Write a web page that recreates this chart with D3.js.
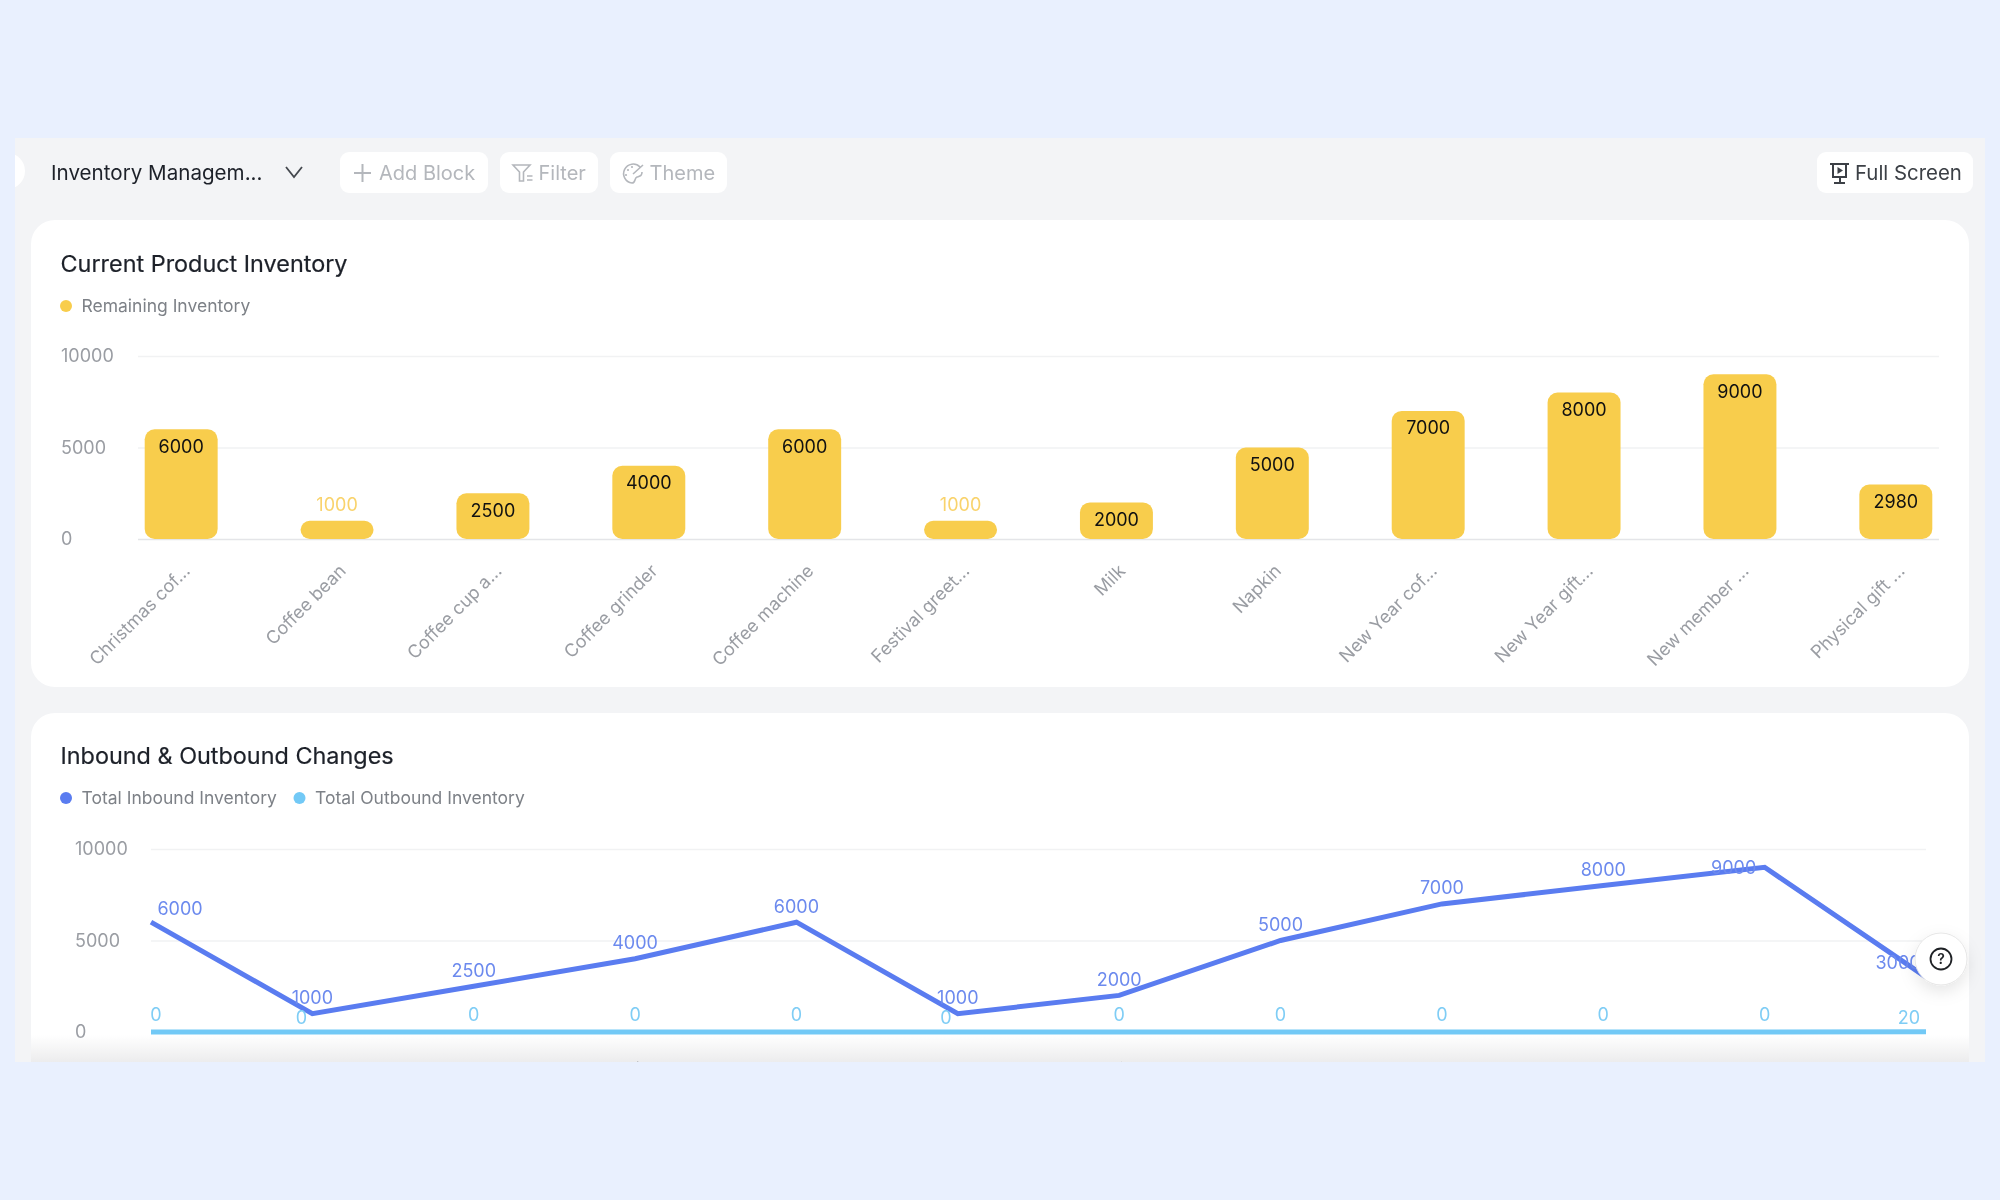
<!DOCTYPE html>
<html>
<head>
<meta charset="utf-8">
<script src="https://cdn.jsdelivr.net/npm/d3@7"></script>
<style>
  body { margin: 0; background: #e9f0fe; }
  svg { display: block; filter: blur(0.35px); }
  text { font-family: Inter, "Noto Sans", sans-serif; }
</style>
</head>
<body>
<div id="chart"></div>
<script>
// data
const categories = ["Christmas cof...", "Coffee bean", "Coffee cup a...", "Coffee grinder", "Coffee machine", "Festival greet...", "Milk", "Napkin", "New Year cof...", "New Year gift...", "New member ...", "Physical gift ..."];
const remaining = [6000, 1000, 2500, 4000, 6000, 1000, 2000, 5000, 7000, 8000, 9000, 2980];
const inbound = [6000, 1000, 2500, 4000, 6000, 1000, 2000, 5000, 7000, 8000, 9000, 3000];
const outbound = [0, 0, 0, 0, 0, 0, 0, 0, 0, 0, 0, 20];
const yTicks = [0, 5000, 10000];

const YELLOW = "#f8cd4c", BLUE = "#5a7cf0", SKY = "#72c9f6";
const TICK = "#9a9da3", LEGEND = "#7d8187", INK = "#1d2129", MUTED = "#b4b7bc";

const svg = d3.select("#chart").append("svg").attr("width", 2000).attr("height", 1200);
const defs = svg.append("defs");

defs.append("clipPath").attr("id", "panelClip")
  .append("rect").attr("x", 15).attr("y", 138).attr("width", 1970).attr("height", 924);

const fade = defs.append("linearGradient").attr("id", "fade").attr("x1", 0).attr("x2", 0).attr("y1", 0).attr("y2", 1);
fade.append("stop").attr("offset", 0).attr("stop-color", "#ececed").attr("stop-opacity", 0);
fade.append("stop").attr("offset", 1).attr("stop-color", "#ececed").attr("stop-opacity", 1);

const shadow = defs.append("filter").attr("id", "soft").attr("x", "-50%").attr("y", "-50%").attr("width", "200%").attr("height", "200%");
shadow.append("feDropShadow").attr("dx", 0).attr("dy", 6).attr("stdDeviation", 8).attr("flood-color", "#000").attr("flood-opacity", 0.1);

const page = svg.append("g").attr("clip-path", "url(#panelClip)");
page.append("rect").attr("x", 15).attr("y", 138).attr("width", 1970).attr("height", 924).attr("fill", "#f3f4f6");

// sidebar toggle poking in from the left
page.append("circle").attr("cx", 7).attr("cy", 171).attr("r", 18).attr("fill", "#fff");

// toolbar
page.append("text").attr("x", 51).attr("y", 173).attr("dy", "0.35em")
  .attr("font-size", 20.6).attr("fill", INK).text("Inventory Managem...");
page.append("path").attr("d", "M286,167 L294,177 L302,167").attr("fill", "none").attr("stroke", "#44484e").attr("stroke-width", 1.8);

function button(x, w, label, textX, color, size) {
  page.append("rect").attr("x", x).attr("y", 152).attr("width", w).attr("height", 41).attr("rx", 9).attr("fill", "#fff");
  page.append("text").attr("x", textX).attr("y", 173).attr("dy", "0.35em")
    .attr("font-size", size).attr("fill", color).text(label);
}
button(340, 148, "Add Block", 379, MUTED, 20);
button(500, 98, "Filter", 538.5, MUTED, 20);
button(610, 117, "Theme", 649.5, MUTED, 20);
button(1817, 156, "Full Screen", 1855, "#3c4046", 20.4);

// toolbar icons
page.append("path").attr("d", "M362.5,164 V182 M354,173 H371").attr("stroke", MUTED).attr("stroke-width", 2).attr("fill", "none");
page.append("path").attr("d", "M513,165 H530 L523.5,172 V181 L519.5,181 V172 Z M527,176 H532.5 M527,180 H532.5")
  .attr("stroke", MUTED).attr("stroke-width", 1.6).attr("fill", "none");
page.append("path").attr("d", "M640,167 A9.5,9.5 0 1 0 632,183 C636,183 634,178 637,177 C640,176 642,176 642,172 M643,165 L633,174")
  .attr("stroke", MUTED).attr("stroke-width", 1.6).attr("fill", "none");
page.selectAll(".paletteDot").data([[628, 170], [632, 167], [626, 175]]).enter().append("circle")
  .attr("cx", d => d[0]).attr("cy", d => d[1]).attr("r", 1.1).attr("fill", MUTED);
page.append("path").attr("d", "M1830,164 H1849 M1833,164 V177 H1846 V164 M1840,177 V183 M1834,183 H1845")
  .attr("stroke", "#3c4046").attr("stroke-width", 2).attr("fill", "none");
page.append("path").attr("d", "M1837.5,167 L1843,170.5 L1837.5,174 Z").attr("fill", "#3c4046");

// cards
page.append("rect").attr("x", 31).attr("y", 220).attr("width", 1938).attr("height", 467).attr("rx", 24).attr("fill", "#fff");
page.append("rect").attr("x", 31).attr("y", 713).attr("width", 1938).attr("height", 420).attr("rx", 24).attr("fill", "#fff");

function cardTitle(label, y) {
  page.append("text").attr("x", 60.5).attr("y", y).attr("dy", "0.35em")
    .attr("font-size", 23.4).attr("fill", INK).attr("stroke", INK).attr("stroke-width", 0.2).text(label);
}
function legendItem(label, color, cx, y) {
  page.append("circle").attr("cx", cx).attr("cy", y).attr("r", 6).attr("fill", color);
  page.append("text").attr("x", cx + 15.5).attr("y", y).attr("dy", "0.35em")
    .attr("font-size", 17.5).attr("fill", LEGEND).text(label);
}
function yAxis(scale, axisX, width, labelX) {
  const g = page.append("g").attr("transform", "translate(" + axisX + ",0)")
    .call(d3.axisLeft(scale).tickValues(yTicks).tickSize(-width).tickFormat(d3.format("d")));
  g.select(".domain").remove();
  g.selectAll(".tick line").attr("stroke", d => d === 0 ? "#e4e5e8" : "#f1f2f3").attr("stroke-width", 1.5);
  g.selectAll(".tick text").attr("x", labelX - axisX).attr("text-anchor", "start")
    .attr("font-size", 18).attr("fill", TICK);
}
function xLabels(position, baseY) {
  page.append("g").selectAll("text").data(categories).enter().append("text")
    .attr("transform", d => "translate(" + (position(d) + 10) + "," + baseY + ") rotate(-45)")
    .attr("text-anchor", "end")
    .attr("font-size", 18).attr("fill", TICK)
    .text(d => d);
}

// top chart - bars
cardTitle("Current Product Inventory", 264);
legendItem("Remaining Inventory", YELLOW, 66, 306);

const barX = d3.scaleBand().domain(categories).range([138, 1939]).paddingInner(0.532).paddingOuter(0.043);
const barY = d3.scaleLinear().domain([0, 10000]).range([539, 356]);
yAxis(barY, 138, 1801, 61);

page.append("g").selectAll("rect").data(remaining).enter().append("rect")
  .attr("x", (d, i) => barX(categories[i]))
  .attr("y", d => barY(d))
  .attr("width", barX.bandwidth())
  .attr("height", d => barY(0) - barY(d))
  .attr("rx", d => Math.min(10, (barY(0) - barY(d)) / 2))
  .attr("fill", YELLOW);

// short bars carry the label on top, the rest inside
page.append("g").selectAll("text").data(remaining).enter().append("text")
  .attr("x", (d, i) => barX(categories[i]) + barX.bandwidth() / 2)
  .attr("y", d => barY(d) + (d <= 1000 ? -16 : 17))
  .attr("dy", "0.35em").attr("text-anchor", "middle")
  .attr("font-size", 18)
  .attr("fill", d => d <= 1000 ? "#f9d36c" : "#111")
  .text(d => d);

xLabels(d => barX(d) + barX.bandwidth() / 2, 572);

// bottom chart - lines
cardTitle("Inbound & Outbound Changes", 756);
legendItem("Total Inbound Inventory", BLUE, 66, 798);
legendItem("Total Outbound Inventory", SKY, 299.5, 798);

const lineX = d3.scalePoint().domain(categories).range([151, 1926]);
const lineY = d3.scaleLinear().domain([0, 10000]).range([1032, 849]);
yAxis(lineY, 151, 1775, 75);

const line = d3.line().x((d, i) => lineX(categories[i])).y(d => lineY(d));
page.append("path").datum(outbound).attr("d", line).attr("fill", "none").attr("stroke", SKY).attr("stroke-width", 5);
page.append("path").datum(inbound).attr("d", line).attr("fill", "none").attr("stroke", BLUE).attr("stroke-width", 5);

// labels the chart moved to avoid collisions, by index
const inboundNudge = { 0: [29, 2.5], 10: [-31, 16], 11: [-28, 2] };
const outboundNudge = { 0: [5, 0], 1: [-11, 3], 5: [-12, 3], 11: [-17, 3] };

page.append("g").selectAll("text").data(inbound).enter().append("text")
  .attr("x", (d, i) => lineX(categories[i]) + (inboundNudge[i] ? inboundNudge[i][0] : 0))
  .attr("y", (d, i) => lineY(d) - 16 + (inboundNudge[i] ? inboundNudge[i][1] : 0))
  .attr("dy", "0.35em").attr("text-anchor", "middle")
  .attr("font-size", 18).attr("fill", "#6c8aee")
  .text(d => d);
page.append("g").selectAll("text").data(outbound).enter().append("text")
  .attr("x", (d, i) => lineX(categories[i]) + (outboundNudge[i] ? outboundNudge[i][0] : 0))
  .attr("y", (d, i) => 1015 + (outboundNudge[i] ? outboundNudge[i][1] : 0))
  .attr("dy", "0.35em").attr("text-anchor", "middle")
  .attr("font-size", 18).attr("fill", "#7fcdf5")
  .text(d => d);

// bottom fade, the page scrolls on under it
page.append("rect").attr("x", 31).attr("y", 1035).attr("width", 1938).attr("height", 27).attr("fill", "url(#fade)");

// only the very tips of these show above the cut
xLabels(d => lineX(d), 1068);

// help button
const help = page.append("g").attr("transform", "translate(1941,959)");
help.append("circle").attr("r", 26).attr("fill", "#fff").attr("stroke", "#e6e6e6").attr("stroke-width", 1).attr("filter", "url(#soft)");
help.append("circle").attr("r", 10.5).attr("fill", "none").attr("stroke", "#1f2226").attr("stroke-width", 1.8);
help.append("text").attr("dy", "0.36em").attr("text-anchor", "middle").attr("font-size", 14).attr("font-weight", 600).attr("fill", "#1f2226").text("?");
</script>
</body>
</html>
